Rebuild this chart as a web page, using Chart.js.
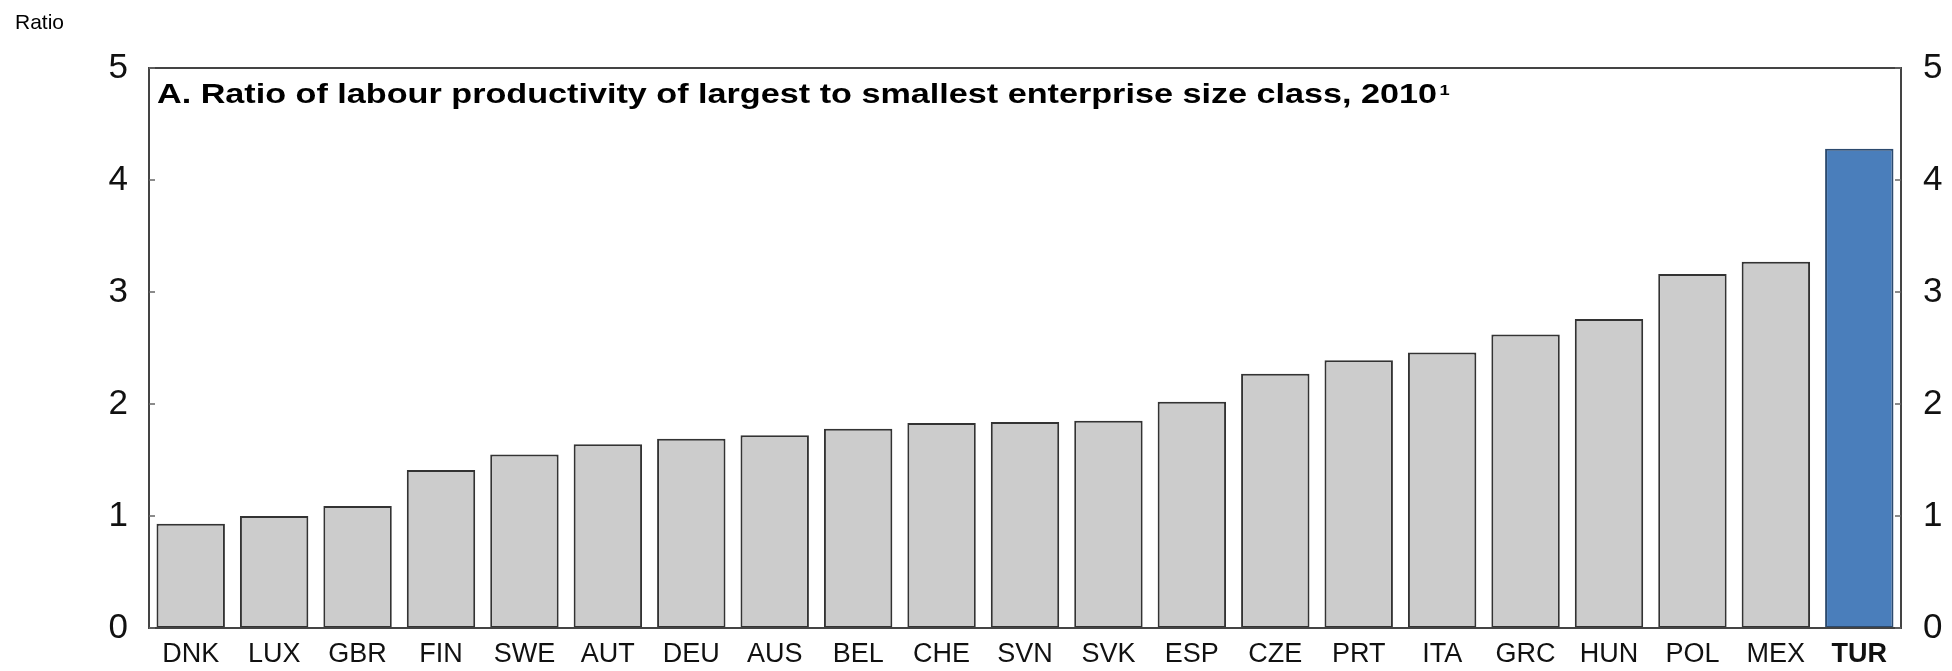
<!DOCTYPE html>
<html>
<head>
<meta charset="utf-8">
<script src="https://cdn.jsdelivr.net/npm/chart.js@4.4.1/dist/chart.umd.min.js"></script>
<style>
  html, body { margin: 0; padding: 0; background: #fff; }
  #wrap { width: 1952px; height: 671px; position: relative; }
</style>
</head>
<body>
<div id="wrap"><canvas id="chart"></canvas></div>
<script>
const countries = ['DNK', 'LUX', 'GBR', 'FIN', 'SWE', 'AUT', 'DEU', 'AUS', 'BEL', 'CHE', 'SVN', 'SVK', 'ESP', 'CZE', 'PRT', 'ITA', 'GRC', 'HUN', 'POL', 'MEX', 'TUR'];
const ratios = [0.93, 1.00, 1.09, 1.41, 1.55, 1.64, 1.69, 1.72, 1.78, 1.83, 1.84, 1.85, 2.02, 2.27, 2.39, 2.46, 2.62, 2.76, 3.16, 3.27, 4.28];
const yTicks = [0, 1, 2, 3, 4, 5];
const highlight = 'TUR';

const titleText = 'A. Ratio of labour productivity of largest to smallest enterprise size class, 2010';
const titleNote = '1';
const unitText = 'Ratio';

const FONT = 'Liberation Sans, Arial, Helvetica, sans-serif';

// box around the plot, inward ticks, panel title, unit label
const framePlugin = {
    id: 'frame',
    afterDatasetsDraw(chart) {
        const { ctx, chartArea: a, scales } = chart;
        ctx.save();
        ctx.strokeStyle = '#444';
        ctx.lineWidth = 2;
        ctx.strokeRect(a.left, a.top, a.right - a.left, a.bottom - a.top);

        ctx.lineWidth = 1.5;
        ctx.strokeStyle = '#666';
        yTicks.forEach(v => {
            const y = scales.y.getPixelForValue(v);
            ctx.beginPath();
            ctx.moveTo(a.left, y);
            ctx.lineTo(a.left + 6, y);
            ctx.moveTo(a.right, y);
            ctx.lineTo(a.right - 6, y);
            ctx.stroke();
        });

        ctx.fillStyle = '#000';
        ctx.textBaseline = 'alphabetic';
        ctx.textAlign = 'left';

        // title: stretched a little to the width of the original
        const tx = a.left + 8, ty = a.top + 35;
        ctx.font = 'bold 28px ' + FONT;
        const w = ctx.measureText(titleText).width;
        const sx = 1280 / w;
        ctx.save();
        ctx.translate(tx, ty);
        ctx.scale(sx, 1);
        ctx.fillText(titleText, 0, 0);
        ctx.font = 'bold 15px ' + FONT;
        ctx.fillText(titleNote, w + 2, -8);
        ctx.restore();

        ctx.font = '21px ' + FONT;
        ctx.fillText(unitText, 15, 29);
        ctx.restore();
    }
};

const data = {
    labels: countries,
    datasets: [{
        data: ratios,
        backgroundColor: countries.map(c => c === highlight ? '#4a7ebb' : '#cccccc'),
        borderColor: countries.map(c => c === highlight ? '#2c4a6e' : '#333333'),
        borderWidth: 2,
        borderSkipped: false,
        barPercentage: 0.82,
        categoryPercentage: 1.0
    }]
};

const options = {
    responsive: false,
    animation: false,
    devicePixelRatio: 1,
    layout: { padding: { top: 68, left: 0, right: 0, bottom: 0 } },
    plugins: {
        legend: { display: false },
        tooltip: { enabled: false }
    },
    scales: {
        x: {
            grid: { display: false, drawTicks: false },
            border: { display: false },
            ticks: {
                color: '#111',
                padding: 10,
                maxRotation: 0,
                autoSkip: false,
                font: ctx => ({
                    family: FONT,
                    size: 27,
                    weight: countries[ctx.index] === highlight ? 'bold' : 'normal'
                })
            },
            afterFit: s => { s.height = 41; }
        },
        y: {
            position: 'left',
            min: 0,
            max: 5,
            grid: { display: false, drawTicks: false },
            border: { display: false },
            ticks: {
                stepSize: 1,
                color: '#111',
                padding: 21,
                font: { family: FONT, size: 35 }
            },
            afterFit: s => { s.width = 149; }
        },
        y2: {
            position: 'right',
            min: 0,
            max: 5,
            grid: { display: false, drawTicks: false },
            border: { display: false },
            ticks: {
                stepSize: 1,
                color: '#111',
                padding: 22,
                font: { family: FONT, size: 35 }
            },
            afterFit: s => { s.width = 51; }
        }
    }
};

const canvas = document.getElementById('chart');
canvas.width = 1952;
canvas.height = 671;
new Chart(canvas.getContext('2d'), {
    type: 'bar',
    data: data,
    options: options,
    plugins: [framePlugin]
});
</script>
</body>
</html>
